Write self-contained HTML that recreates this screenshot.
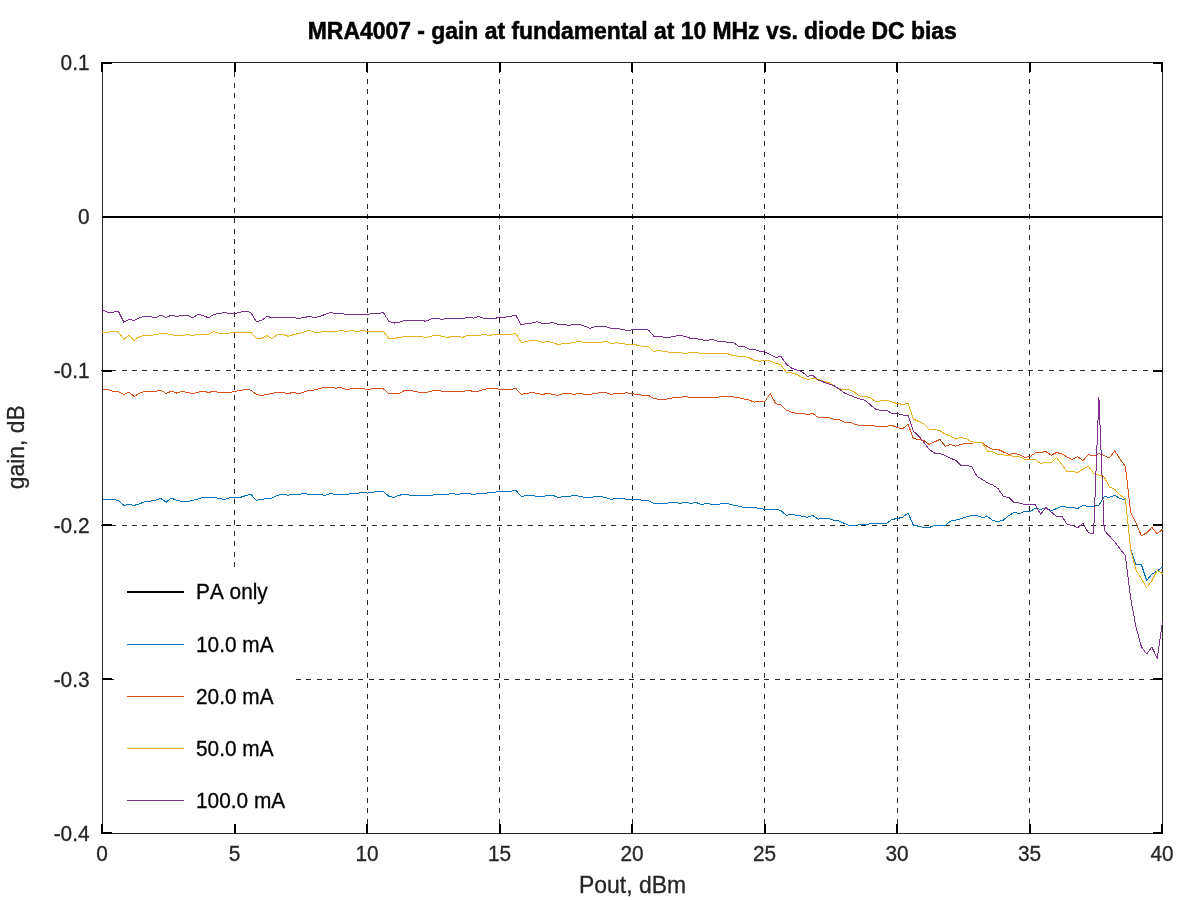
<!DOCTYPE html>
<html lang="en"><head><meta charset="utf-8"><title>MRA4007 - gain at fundamental at 10 MHz vs. diode DC bias</title>
<style>
html,body{margin:0;padding:0;background:#fff;}
body{width:1200px;height:900px;overflow:hidden;}
svg{display:block;}
text{font-family:"Liberation Sans",Arial,Helvetica,sans-serif;font-kerning:none;}
.tl{font-size:20.83px;fill:#262626;stroke:#262626;stroke-width:.3px;}
.al{font-size:22.92px;fill:#262626;stroke:#262626;stroke-width:.3px;}
.lg{font-size:20.83px;fill:#000;stroke:#000;stroke-width:.3px;}
.ti{font-size:22.92px;font-weight:bold;fill:#000;stroke:#000;stroke-width:.5px;}
</style></head><body>
<svg width="1200" height="900" viewBox="0 0 1200 900">
<rect x="0" y="0" width="1200" height="900" fill="#fff"/>
<g stroke="#262626" stroke-width="1" fill="none" shape-rendering="crispEdges" stroke-dasharray="5 5.42">
<path d="M234.5 567 V62.5"/>
<path d="M367.5 834 V62.5"/>
<path d="M499.5 834 V62.5"/>
<path d="M632.5 834 V62.5"/>
<path d="M764.5 834 V62.5"/>
<path d="M897.5 834 V62.5"/>
<path d="M1029.5 834 V62.5"/>
<path d="M100.66 370.5 H1162.5"/>
<path d="M100.66 525.5 H1162.5"/>
<path d="M296 679.5 H1162.5" stroke-dasharray="5 5.41"/>
<path d="M111.6 679.5 H114.5"/>
</g>
<rect x="102.5" y="62.5" width="1060.0" height="771.0" fill="none" stroke="#262626" stroke-width="1" shape-rendering="crispEdges"/>
<g fill="#000" shape-rendering="crispEdges">
<rect x="101" y="824" width="2" height="10"/>
<rect x="101" y="62" width="2" height="10"/>
<rect x="234" y="824" width="2" height="10"/>
<rect x="234" y="62" width="2" height="10"/>
<rect x="366" y="824" width="2" height="10"/>
<rect x="366" y="62" width="2" height="10"/>
<rect x="499" y="824" width="2" height="10"/>
<rect x="499" y="62" width="2" height="10"/>
<rect x="631" y="824" width="2" height="10"/>
<rect x="631" y="62" width="2" height="10"/>
<rect x="764" y="824" width="2" height="10"/>
<rect x="764" y="62" width="2" height="10"/>
<rect x="896" y="824" width="2" height="10"/>
<rect x="896" y="62" width="2" height="10"/>
<rect x="1029" y="824" width="2" height="10"/>
<rect x="1029" y="62" width="2" height="10"/>
<rect x="1161" y="824" width="2" height="10"/>
<rect x="1161" y="62" width="2" height="10"/>
<rect x="102" y="62" width="10" height="2"/>
<rect x="1153" y="62" width="10" height="2"/>
<rect x="102" y="216" width="10" height="2"/>
<rect x="1153" y="216" width="10" height="2"/>
<rect x="102" y="370" width="10" height="2"/>
<rect x="1153" y="370" width="10" height="2"/>
<rect x="102" y="524" width="10" height="2"/>
<rect x="1153" y="524" width="10" height="2"/>
<rect x="102" y="678" width="10" height="2"/>
<rect x="1153" y="678" width="10" height="2"/>
<rect x="102" y="832" width="10" height="2"/>
<rect x="1153" y="832" width="10" height="2"/>
</g>
<rect x="102.5" y="216" width="1060" height="2" fill="#000" shape-rendering="crispEdges"/>
<polyline points="102.5,499.4 107.8,499.4 113.1,499.4 118.4,500.6 123.8,505.4 129.0,504.4 134.2,505.4 139.6,503.8 144.9,501.5 150.2,501.2 155.5,500.2 160.8,498.5 166.1,502.2 171.4,498.1 176.8,500.4 182.0,501.5 187.2,501.5 192.6,500.4 197.9,499.0 203.2,497.5 208.5,497.5 213.8,497.5 219.1,498.4 224.4,499.5 229.8,497.8 235.0,497.5 240.2,497.5 245.6,495.6 250.9,494.4 256.2,500.4 261.5,499.4 266.8,498.4 272.1,498.1 277.4,495.2 282.8,494.4 288.0,495.2 293.2,494.4 298.6,494.4 303.9,493.5 309.2,494.4 314.5,494.4 319.8,494.4 325.1,495.4 330.4,493.5 335.8,494.4 341.0,494.4 346.2,494.4 351.6,493.5 356.9,493.5 362.2,492.2 367.5,493.1 372.8,492.2 378.1,491.5 383.4,491.5 388.8,496.2 394.0,497.5 399.2,495.2 404.6,494.4 409.9,495.2 415.2,495.4 420.5,495.4 425.8,495.4 431.1,495.4 436.4,494.4 441.8,494.4 447.0,494.4 452.2,493.4 457.6,494.4 462.9,493.5 468.2,493.5 473.5,494.4 478.8,493.5 484.1,493.5 489.4,492.5 494.8,492.2 500.0,491.2 505.2,491.2 510.6,491.2 515.9,490.2 521.2,496.5 526.5,495.4 531.8,495.4 537.1,496.5 542.4,496.5 547.8,495.6 553.0,495.4 558.2,497.5 563.6,496.5 568.9,496.5 574.2,495.4 579.5,496.2 584.8,497.5 590.1,497.5 595.4,496.5 600.8,496.5 606.0,497.5 611.2,499.4 616.6,498.4 621.9,498.4 627.2,499.4 632.5,499.4 637.8,499.4 643.1,500.4 648.4,500.6 653.8,503.5 659.0,503.5 664.2,503.5 669.6,502.8 674.9,502.5 680.2,503.5 685.5,502.2 690.8,503.5 696.1,502.5 701.4,504.4 706.8,503.5 712.0,504.4 717.2,504.4 722.6,503.5 727.9,503.8 733.2,505.0 738.5,506.2 743.8,507.5 749.1,507.5 754.4,507.5 759.8,508.5 765.0,509.4 770.2,509.4 775.6,509.4 780.9,510.4 786.2,515.4 791.5,514.4 796.8,515.4 802.1,516.2 807.4,517.2 812.8,515.4 818.0,519.1 823.2,518.5 828.6,518.5 833.9,520.4 839.2,521.0 844.5,523.5 849.8,525.6 855.1,525.6 860.4,524.4 865.8,524.8 871.0,523.5 876.2,523.5 881.6,523.5 886.9,523.1 892.2,519.4 897.5,518.5 902.8,517.2 908.1,513.1 913.4,525.4 918.8,526.2 924.0,527.5 929.2,527.5 934.6,525.4 939.9,525.4 945.2,525.4 950.5,521.2 955.8,520.0 961.1,518.8 966.4,516.9 971.8,515.4 977.0,515.6 982.2,517.5 987.6,516.5 992.9,520.6 998.2,521.5 1003.5,520.0 1008.8,515.5 1014.1,512.5 1019.4,513.5 1024.7,511.5 1030.0,511.5 1035.3,508.2 1040.6,509.5 1045.9,507.8 1051.2,511.0 1056.5,508.5 1061.8,506.2 1067.1,507.2 1072.4,507.5 1077.7,508.5 1083.0,505.5 1088.3,506.5 1093.6,506.2 1098.9,505.3 1104.2,496.6 1109.5,497.3 1114.8,495.3 1120.1,498.7 1125.4,499.7 1130.7,549.3 1136.0,564.5 1141.3,564.3 1146.6,580.3 1151.9,574.3 1157.2,571.0 1162.5,567.0" fill="none" stroke="#0072bd" stroke-width="1" stroke-linejoin="round" shape-rendering="crispEdges"/>
<polyline points="102.5,389.4 107.8,389.4 113.1,391.5 118.4,391.5 123.8,394.4 129.0,392.2 134.2,396.5 139.6,393.1 144.9,391.5 150.2,391.5 155.5,391.5 160.8,390.0 166.1,393.5 171.4,391.2 176.8,393.1 182.0,391.2 187.2,392.5 192.6,393.5 197.9,392.2 203.2,391.2 208.5,392.5 213.8,391.2 219.1,392.5 224.4,392.5 229.8,392.5 235.0,391.2 240.2,390.6 245.6,389.4 250.9,390.2 256.2,394.4 261.5,395.4 266.8,394.4 272.1,393.5 277.4,392.2 282.8,392.5 288.0,393.5 293.2,392.5 298.6,393.5 303.9,392.2 309.2,390.2 314.5,390.0 319.8,388.5 325.1,387.5 330.4,387.2 335.8,388.1 341.0,387.5 346.2,389.4 351.6,388.8 356.9,388.5 362.2,388.5 367.5,389.4 372.8,388.8 378.1,388.5 383.4,388.8 388.8,393.5 394.0,393.5 399.2,393.5 404.6,390.4 409.9,390.4 415.2,391.5 420.5,392.5 425.8,392.5 431.1,391.2 436.4,390.2 441.8,391.2 447.0,391.5 452.2,391.5 457.6,391.5 462.9,391.5 468.2,390.2 473.5,391.5 478.8,391.2 484.1,389.4 489.4,388.5 494.8,388.5 500.0,389.4 505.2,389.4 510.6,389.4 515.9,388.5 521.2,394.4 526.5,393.4 531.8,392.5 537.1,393.4 542.4,394.4 547.8,393.4 553.0,394.4 558.2,395.4 563.6,393.4 568.9,393.4 574.2,394.4 579.5,393.4 584.8,394.4 590.1,394.4 595.4,393.5 600.8,392.5 606.0,392.8 611.2,394.4 616.6,393.4 621.9,393.4 627.2,392.8 632.5,393.8 637.8,394.4 643.1,395.4 648.4,395.4 653.8,398.5 659.0,399.4 664.2,399.4 669.6,398.5 674.9,397.5 680.2,397.2 685.5,396.5 690.8,397.5 696.1,397.2 701.4,397.5 706.8,397.2 712.0,397.2 717.2,397.2 722.6,396.5 727.9,396.0 733.2,396.9 738.5,397.5 743.8,399.0 749.1,400.0 754.4,402.2 759.8,401.2 765.0,401.2 770.2,393.5 775.6,403.5 780.9,405.0 786.2,410.0 791.5,412.2 796.8,413.5 802.1,413.5 807.4,414.4 812.8,413.5 818.0,417.2 823.2,417.5 828.6,417.5 833.9,419.4 839.2,419.6 844.5,422.2 849.8,422.2 855.1,424.4 860.4,425.4 865.8,426.0 871.0,425.4 876.2,426.2 881.6,426.2 886.9,426.2 892.2,425.4 897.5,427.8 902.8,428.5 908.1,424.4 913.4,438.5 918.8,439.4 924.0,440.6 929.2,444.4 934.6,441.9 939.9,439.4 945.2,446.2 950.5,444.4 955.8,446.2 961.1,444.4 966.4,443.1 971.8,443.1 977.0,442.5 982.2,442.5 987.6,446.9 992.9,449.4 998.2,449.4 1003.5,452.0 1008.8,454.5 1014.1,453.2 1019.4,454.5 1024.7,457.5 1030.0,456.5 1035.3,453.0 1040.6,452.5 1045.9,451.5 1051.2,455.3 1056.5,452.5 1061.8,453.8 1067.1,457.0 1072.4,459.5 1077.7,456.8 1083.0,460.5 1088.3,454.5 1093.6,456.0 1098.9,453.5 1104.2,455.5 1109.5,458.0 1114.8,450.7 1120.1,459.3 1125.4,466.3 1130.7,512.7 1136.0,522.7 1141.3,535.7 1146.6,533.0 1151.9,527.3 1157.2,534.0 1162.5,529.0" fill="none" stroke="#d95319" stroke-width="1" stroke-linejoin="round" shape-rendering="crispEdges"/>
<polyline points="102.5,332.5 107.8,332.2 113.1,331.0 118.4,331.9 123.8,339.4 129.0,335.2 134.2,340.6 139.6,336.5 144.9,335.2 150.2,335.2 155.5,334.8 160.8,333.5 166.1,333.5 171.4,334.8 176.8,335.6 182.0,335.6 187.2,334.4 192.6,335.6 197.9,334.4 203.2,334.4 208.5,334.4 213.8,331.5 219.1,333.5 224.4,333.5 229.8,333.1 235.0,332.2 240.2,332.2 245.6,332.2 250.9,332.5 256.2,338.5 261.5,338.5 266.8,335.6 272.1,338.5 277.4,334.8 282.8,334.4 288.0,336.2 293.2,334.8 298.6,333.5 303.9,332.2 309.2,330.2 314.5,332.2 319.8,332.2 325.1,331.5 330.4,331.5 335.8,331.5 341.0,330.2 346.2,331.5 351.6,330.6 356.9,331.5 362.2,330.6 367.5,331.5 372.8,331.5 378.1,331.5 383.4,331.5 388.8,338.5 394.0,338.5 399.2,337.5 404.6,336.5 409.9,336.5 415.2,336.5 420.5,336.5 425.8,337.5 431.1,336.2 436.4,335.2 441.8,336.2 447.0,337.5 452.2,336.5 457.6,336.5 462.9,337.2 468.2,335.4 473.5,335.4 478.8,335.4 484.1,334.4 489.4,335.4 494.8,334.4 500.0,334.4 505.2,334.4 510.6,334.4 515.9,333.5 521.2,342.5 526.5,341.5 531.8,340.6 537.1,340.6 542.4,342.5 547.8,341.5 553.0,342.8 558.2,344.6 563.6,343.5 568.9,343.5 574.2,342.2 579.5,341.5 584.8,342.5 590.1,342.5 595.4,342.5 600.8,342.5 606.0,341.2 611.2,343.5 616.6,342.8 621.9,343.5 627.2,344.4 632.5,344.4 637.8,345.2 643.1,346.5 648.4,346.5 653.8,351.5 659.0,350.4 664.2,351.5 669.6,352.2 674.9,352.2 680.2,352.8 685.5,353.5 690.8,352.5 696.1,352.2 701.4,353.5 706.8,353.5 712.0,353.5 717.2,353.5 722.6,353.5 727.9,353.8 733.2,355.6 738.5,356.2 743.8,356.5 749.1,357.8 754.4,360.4 759.8,361.2 765.0,360.4 770.2,361.0 775.6,363.1 780.9,364.8 786.2,372.2 791.5,372.8 796.8,374.4 802.1,377.5 807.4,379.4 812.8,378.5 818.0,379.4 823.2,381.2 828.6,382.5 833.9,385.6 839.2,388.8 844.5,389.4 849.8,389.8 855.1,392.8 860.4,396.5 865.8,396.5 871.0,398.1 876.2,401.9 881.6,400.6 886.9,400.0 892.2,402.2 897.5,403.5 902.8,404.4 908.1,403.5 913.4,419.0 918.8,421.6 924.0,423.8 929.2,429.4 934.6,429.4 939.9,430.6 945.2,434.1 950.5,436.2 955.8,439.1 961.1,437.5 966.4,438.8 971.8,441.9 977.0,442.5 982.2,442.5 987.6,451.2 992.9,451.9 998.2,454.4 1003.5,455.0 1008.8,455.0 1014.1,456.5 1019.4,456.5 1024.7,459.5 1030.0,459.5 1035.3,459.5 1040.6,463.5 1045.9,462.5 1051.2,463.0 1056.5,457.5 1061.8,464.5 1067.1,471.5 1072.4,471.5 1077.7,472.5 1083.0,469.0 1088.3,466.2 1093.6,473.5 1098.9,475.0 1104.2,477.0 1109.5,487.0 1114.8,489.5 1120.1,495.0 1125.4,499.0 1130.7,550.0 1136.0,570.0 1141.3,578.7 1146.6,587.7 1151.9,580.7 1157.2,570.3 1162.5,573.7" fill="none" stroke="#edb120" stroke-width="1" stroke-linejoin="round" shape-rendering="crispEdges"/>
<polyline points="102.5,310.0 107.8,312.2 113.1,312.2 118.4,311.2 123.8,322.2 129.0,319.4 134.2,320.6 139.6,317.5 144.9,316.5 150.2,316.5 155.5,317.8 160.8,315.2 166.1,317.5 171.4,315.2 176.8,316.5 182.0,315.2 187.2,315.2 192.6,317.8 197.9,314.4 203.2,315.6 208.5,317.8 213.8,314.4 219.1,313.5 224.4,312.5 229.8,313.5 235.0,313.5 240.2,312.2 245.6,311.2 250.9,312.5 256.2,321.5 261.5,320.4 266.8,316.5 272.1,317.5 277.4,317.5 282.8,317.5 288.0,317.5 293.2,317.5 298.6,318.5 303.9,317.5 309.2,316.5 314.5,317.5 319.8,316.5 325.1,314.4 330.4,312.5 335.8,313.5 341.0,313.5 346.2,314.4 351.6,314.4 356.9,314.4 362.2,314.4 367.5,314.4 372.8,313.5 378.1,313.5 383.4,312.5 388.8,321.2 394.0,323.1 399.2,322.2 404.6,320.4 409.9,320.6 415.2,320.4 420.5,320.4 425.8,321.2 431.1,319.0 436.4,318.1 441.8,319.4 447.0,318.4 452.2,318.4 457.6,318.4 462.9,318.4 468.2,317.2 473.5,318.1 478.8,316.5 484.1,318.4 489.4,318.4 494.8,318.4 500.0,317.2 505.2,317.2 510.6,316.2 515.9,315.4 521.2,325.0 526.5,323.5 531.8,323.1 537.1,321.6 542.4,323.5 547.8,323.5 553.0,322.5 558.2,324.4 563.6,324.4 568.9,325.4 574.2,324.4 579.5,324.4 584.8,326.2 590.1,328.5 595.4,326.5 600.8,326.2 606.0,326.5 611.2,328.5 616.6,328.5 621.9,329.4 627.2,330.4 632.5,329.8 637.8,329.4 643.1,329.4 648.4,330.0 653.8,336.2 659.0,336.2 664.2,337.2 669.6,337.2 674.9,336.2 680.2,335.4 685.5,336.5 690.8,338.5 696.1,338.5 701.4,339.8 706.8,340.4 712.0,339.4 717.2,341.2 722.6,341.2 727.9,342.5 733.2,342.5 738.5,346.2 743.8,346.5 749.1,349.1 754.4,349.4 759.8,351.2 765.0,351.9 770.2,354.8 775.6,357.5 780.9,356.5 786.2,363.8 791.5,368.1 796.8,369.8 802.1,371.9 807.4,376.2 812.8,375.4 818.0,380.0 823.2,381.9 828.6,384.0 833.9,385.6 839.2,389.0 844.5,393.1 849.8,395.2 855.1,397.5 860.4,399.1 865.8,400.6 871.0,405.6 876.2,409.4 881.6,410.4 886.9,410.6 892.2,413.5 897.5,413.5 902.8,415.0 908.1,415.4 913.4,431.2 918.8,436.2 924.0,442.5 929.2,449.4 934.6,453.1 939.9,453.5 945.2,455.6 950.5,458.1 955.8,460.4 961.1,465.4 966.4,465.4 971.8,466.9 977.0,476.2 982.2,479.4 987.6,482.9 992.9,485.0 998.2,488.8 1003.5,496.5 1008.8,497.5 1014.1,502.5 1019.4,503.0 1024.7,504.5 1030.0,504.5 1035.3,504.5 1040.6,514.5 1045.9,507.5 1051.2,512.0 1056.5,516.5 1061.8,516.0 1067.1,524.5 1072.4,525.5 1077.7,527.5 1083.0,523.5 1088.3,532.8 1093.6,533.5 1098.9,397.0 1104.2,530.3 1109.5,536.0 1114.8,542.0 1120.1,549.0 1125.4,555.7 1130.7,598.8 1136.0,627.0 1141.3,646.5 1146.6,654.0 1151.9,647.0 1157.2,658.5 1162.5,622.0" fill="none" stroke="#7e2f8e" stroke-width="1" stroke-linejoin="round" shape-rendering="crispEdges"/>
<rect x="114" y="567" width="182" height="257" fill="#fff"/>
<rect x="127" y="591" width="57" height="2" fill="#000" shape-rendering="crispEdges"/>
<text class="lg" transform="translate(196.00 599.10) scale(1 1.07)">PA only</text>
<rect x="127" y="644" width="57" height="1" fill="#0072bd" shape-rendering="crispEdges"/>
<text class="lg" transform="translate(196.00 651.50) scale(1 1.07)">10.0 mA</text>
<rect x="127" y="696" width="57" height="1" fill="#d95319" shape-rendering="crispEdges"/>
<text class="lg" transform="translate(196.00 703.90) scale(1 1.07)">20.0 mA</text>
<rect x="127" y="748" width="57" height="1" fill="#edb120" shape-rendering="crispEdges"/>
<text class="lg" transform="translate(196.00 756.10) scale(1 1.07)">50.0 mA</text>
<rect x="127" y="800" width="57" height="1" fill="#7e2f8e" shape-rendering="crispEdges"/>
<text class="lg" transform="translate(196.00 808.30) scale(1 1.07)">100.0 mA</text>
<text class="tl" transform="translate(102.00 861.30) scale(1 1.08)" text-anchor="middle">0</text>
<text class="tl" transform="translate(234.50 861.30) scale(1 1.08)" text-anchor="middle">5</text>
<text class="tl" transform="translate(367.00 861.30) scale(1 1.08)" text-anchor="middle">10</text>
<text class="tl" transform="translate(499.50 861.30) scale(1 1.08)" text-anchor="middle">15</text>
<text class="tl" transform="translate(632.00 861.30) scale(1 1.08)" text-anchor="middle">20</text>
<text class="tl" transform="translate(764.50 861.30) scale(1 1.08)" text-anchor="middle">25</text>
<text class="tl" transform="translate(897.00 861.30) scale(1 1.08)" text-anchor="middle">30</text>
<text class="tl" transform="translate(1029.50 861.30) scale(1 1.08)" text-anchor="middle">35</text>
<text class="tl" transform="translate(1162.00 861.30) scale(1 1.08)" text-anchor="middle">40</text>
<text class="tl" transform="translate(89.50 70.00) scale(1 1.08)" text-anchor="end">0.1</text>
<text class="tl" transform="translate(89.50 224.20) scale(1 1.08)" text-anchor="end">0</text>
<text class="tl" transform="translate(89.50 378.40) scale(1 1.08)" text-anchor="end">-0.1</text>
<text class="tl" transform="translate(89.50 532.60) scale(1 1.08)" text-anchor="end">-0.2</text>
<text class="tl" transform="translate(89.50 686.80) scale(1 1.08)" text-anchor="end">-0.3</text>
<text class="tl" transform="translate(89.50 841.00) scale(1 1.08)" text-anchor="end">-0.4</text>
<text class="al" transform="translate(632.50 892.80) scale(1 1.04)" text-anchor="middle">Pout, dBm</text>
<text class="al" transform="translate(24.40 447.30) rotate(-90) scale(1 1.04)" text-anchor="middle">gain, dB</text>
<text class="ti" transform="translate(632.30 38.60) scale(1 1.07)" text-anchor="middle">MRA4007 - gain at fundamental at 10 MHz vs. diode DC bias</text>
</svg></body></html>
